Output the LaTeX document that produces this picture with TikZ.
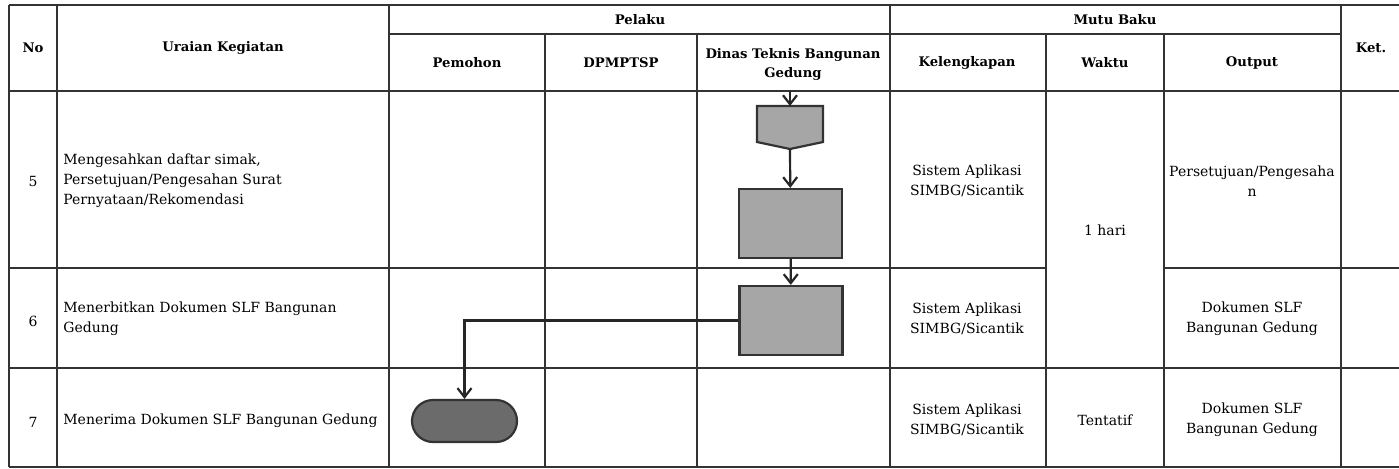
\documentclass[tikz,border=0pt]{standalone}
\usepackage{fontspec}
\setmainfont{DejaVu Serif}
\usetikzlibrary{arrows.meta}

\begin{document}
\begin{tikzpicture}[x=0.5pt, y=-0.5pt,
    grid/.style={line width=0.65pt, draw=black!80},
    hd/.style={font=\bfseries\fontsize{6.6}{9.5}\selectfont, align=center},
    txt/.style={font=\fontsize{7}{10}\selectfont, align=center},
    lft/.style={font=\fontsize{7}{10}\selectfont, align=left, anchor=west, inner sep=0pt},
    box/.style={draw=black!80, line width=1.1pt, fill=black!35, minimum width=51.5pt, minimum height=34.5pt, inner sep=0pt},
    term/.style={draw=black!80, line width=1.1pt, fill=black!58, rounded corners=10.5pt, minimum width=52.5pt, minimum height=21pt, inner sep=0pt},
    arr/.style={draw=black!85, line width=1.1pt, -{Straight Barb[length=4.5pt, width=7pt, line width=1.1pt]}}]
        \useasboundingbox (0,0) rectangle (1399,468);

        % table
        \draw[grid] (9,5) -- (1399,5);
        \draw[grid] (389,34) -- (1341,34);
        \draw[grid] (9,91) -- (1399,91);
        \draw[grid] (9,268) -- (1046,268);
        \draw[grid] (1164,268) -- (1399,268);
        \draw[grid] (9,368) -- (1399,368);
        \draw[grid] (9,467) -- (1399,467);
        \draw[grid] (9,5) -- (9,467);
        \draw[grid] (57,5) -- (57,467);
        \draw[grid] (389,5) -- (389,467);
        \draw[grid] (545,34) -- (545,467);
        \draw[grid] (697,34) -- (697,467);
        \draw[grid] (890,5) -- (890,467);
        \draw[grid] (1046,34) -- (1046,467);
        \draw[grid] (1164,34) -- (1164,467);
        \draw[grid] (1341,5) -- (1341,467);

        % header
        \node[hd] (no) at (33,48) {No};
        \node[hd] (uraian) at (223,48) {Uraian Kegiatan};
        \node[hd] (pelaku) at (640,20) {Pelaku};
        \node[hd] (pemohon) at (467,63) {Pemohon};
        \node[hd] (dpm) at (621,63) {DPMPTSP};
        \node[hd] (dinas) at (793,64) {Dinas Teknis Bangunan\\Gedung};
        \node[hd] (mutu) at (1115,20) {Mutu Baku};
        \node[hd] (kel) at (967,63) {Kelengkapan};
        \node[hd] (waktu) at (1105,63) {Waktu};
        \node[hd] (output) at (1252,63) {Output};
        \node[hd] (ket) at (1371,48) {Ket.};

        % rows
        \node[txt] (n5) at (33,181) {5};
        \node[txt] (n6) at (33,321) {6};
        \node[txt] (n7) at (33,422) {7};
        \node[lft] (u5) at (63,181) {Mengesahkan daftar simak,\\Persetujuan/Pengesahan Surat\\Pernyataan/Rekomendasi};
        \node[lft] (u6) at (63,319) {Menerbitkan Dokumen SLF Bangunan\\Gedung};
        \node[lft] (u7) at (63,421) {Menerima Dokumen SLF Bangunan Gedung};
        \node[txt] (k5) at (967,181) {Sistem Aplikasi\\SIMBG/Sicantik};
        \node[txt] (k6) at (967,319) {Sistem Aplikasi\\SIMBG/Sicantik};
        \node[txt] (k7) at (967,420) {Sistem Aplikasi\\SIMBG/Sicantik};
        \node[txt] (w56) at (1105,230) {1 hari};
        \node[txt] (w7) at (1105,420) {Tentatif};
        \node[txt] (o5) at (1252,181) {Persetujuan/Pengesaha\\n};
        \node[txt] (o6) at (1252,319) {Dokumen SLF\\Bangunan Gedung};
        \node[txt] (o7) at (1252,420) {Dokumen SLF\\Bangunan Gedung};

        % flow
        \coordinate (0) at (790,91);
        \coordinate (1) at (790,106);
        \coordinate (1b) at (790,149);
        \draw[draw=black!80, line width=1.1pt, fill=black!35] (757,106) -- (823,106) -- (823,142) -- (1b) -- (757,142) -- cycle;
        \node[box] (2) at (790.5,223.5) {};
        \node[box] (3) at (791,320.5) {};
        \node[term] (4) at (464.5,421) {};

        \draw[arr] (0) -- (1);
        \draw[arr] (1b) -- (2);
        \draw[arr] (2) -- (3);
        \draw[arr] (3.west) -| (4);
    \end{tikzpicture}
\end{document}
